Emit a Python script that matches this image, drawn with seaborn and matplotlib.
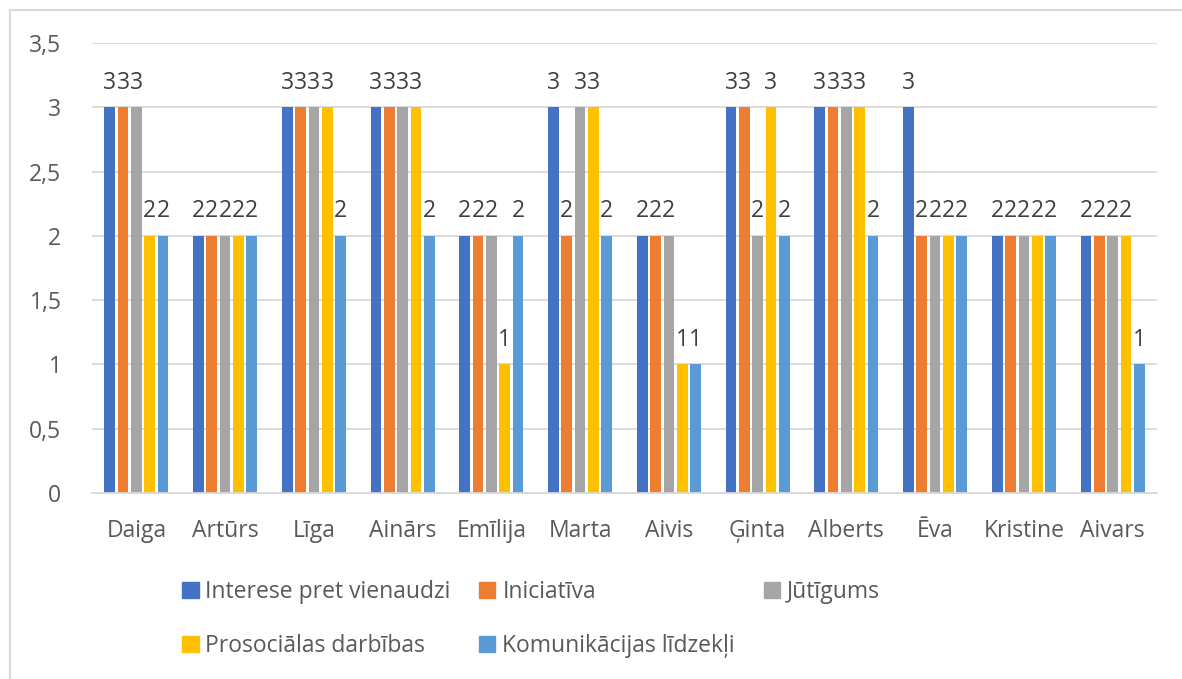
import pandas as pd
import numpy as np
import matplotlib.pyplot as plt
import matplotlib.patches as mpatches
from matplotlib.lines import Line2D
from matplotlib.ticker import FuncFormatter
import seaborn as sns

names = ['Daiga', 'Artūrs', 'Līga', 'Ainārs', 'Emīlija', 'Marta', 'Aivis',
         'Ģinta', 'Alberts', 'Ēva', 'Kristine', 'Aivars']
series = ['Interese pret vienaudzi', 'Iniciatīva', 'Jūtīgums',
          'Prosociālas darbības', 'Komunikācijas līdzekļi']
interese = [3, 2, 3, 3, 2, 3, 2, 3, 3, 3, 2, 2]
iniciativa = [3, 2, 3, 3, 2, 2, 2, 3, 3, 2, 2, 2]
jutigums = [3, 2, 3, 3, 2, 3, 2, 2, 3, 2, 2, 2]
prosocialas = [2, 2, 3, 3, 1, 3, 1, 3, 3, 2, 2, 2]
komunikacijas = [2, 2, 2, 2, 2, 2, 1, 2, 2, 2, 2, 1]
colors = ['#4472C4', '#ED7D31', '#A5A5A5', '#FFC000', '#5B9BD5']

data = pd.DataFrame({'Vārds': names,
                     series[0]: interese,
                     series[1]: iniciativa,
                     series[2]: jutigums,
                     series[3]: prosocialas,
                     series[4]: komunikacijas})
long = data.melt(id_vars='Vārds', var_name='Rādītājs', value_name='Vērtība')

sns.set_style('white')
plt.rcParams['font.family'] = ['Open Sans', 'DejaVu Sans']
text_col = '#595959'
grid_col = '#D9D9D9'
fs = 16.5

fig = plt.figure(figsize=(11.82, 6.79), dpi=100)
ax = fig.add_axes([92 / 1182, 1 - 493 / 679, (1157 - 92) / 1182, (493 - 43) / 679])

sns.barplot(data=long, x='Vārds', y='Vērtība', hue='Rādītājs', hue_order=series,
            palette=colors, width=0.75, gap=0.2, legend=False, ax=ax,
            errorbar=None, saturation=1, linewidth=0)

for cont in ax.containers:
    ax.bar_label(cont, labels=[f'{b.get_height():g}' for b in cont],
                 padding=9, fontsize=fs, color='#404040')

ax.set_ylim(0, 3.5)
ax.set_yticks(np.arange(0, 3.51, 0.5))
ax.yaxis.set_major_formatter(FuncFormatter(lambda v, p: f'{v:g}'.replace('.', ',')))
ax.set_xlim(-0.5, len(names) - 0.5)
ax.set_xlabel('')
ax.set_ylabel('')
ax.grid(axis='y', color=grid_col, linewidth=1.3)
ax.set_axisbelow(True)
for s in ['top', 'right', 'left']:
    ax.spines[s].set_visible(False)
ax.spines['bottom'].set_color(grid_col)
ax.spines['bottom'].set_linewidth(1.3)
ax.tick_params(axis='both', length=0, labelsize=fs, colors=text_col)
ax.tick_params(axis='x', pad=19)
ax.tick_params(axis='y', pad=22)

handles = [mpatches.Patch(color=c, label=s) for c, s in zip(colors, series)]
order = [0, 3, 1, 4, 2]
fig.legend([handles[i] for i in order], [series[i] for i in order],
           ncol=3, loc='upper left', bbox_to_anchor=(171 / 1182, 1 - 569 / 679),
           frameon=False, fontsize=fs, labelcolor=text_col, borderpad=0,
           handlelength=0.7, handleheight=0.7, handletextpad=0.3,
           columnspacing=1.25, labelspacing=1.3)

fig.add_artist(Line2D([10 / 1182, 10 / 1182], [0, 1 - 10 / 679], color=grid_col,
                      linewidth=1.5, transform=fig.transFigure))
fig.add_artist(Line2D([10 / 1182, 1], [1 - 10 / 679, 1 - 10 / 679], color=grid_col,
                      linewidth=1.5, transform=fig.transFigure))

fig.savefig('out.png', dpi=100)
